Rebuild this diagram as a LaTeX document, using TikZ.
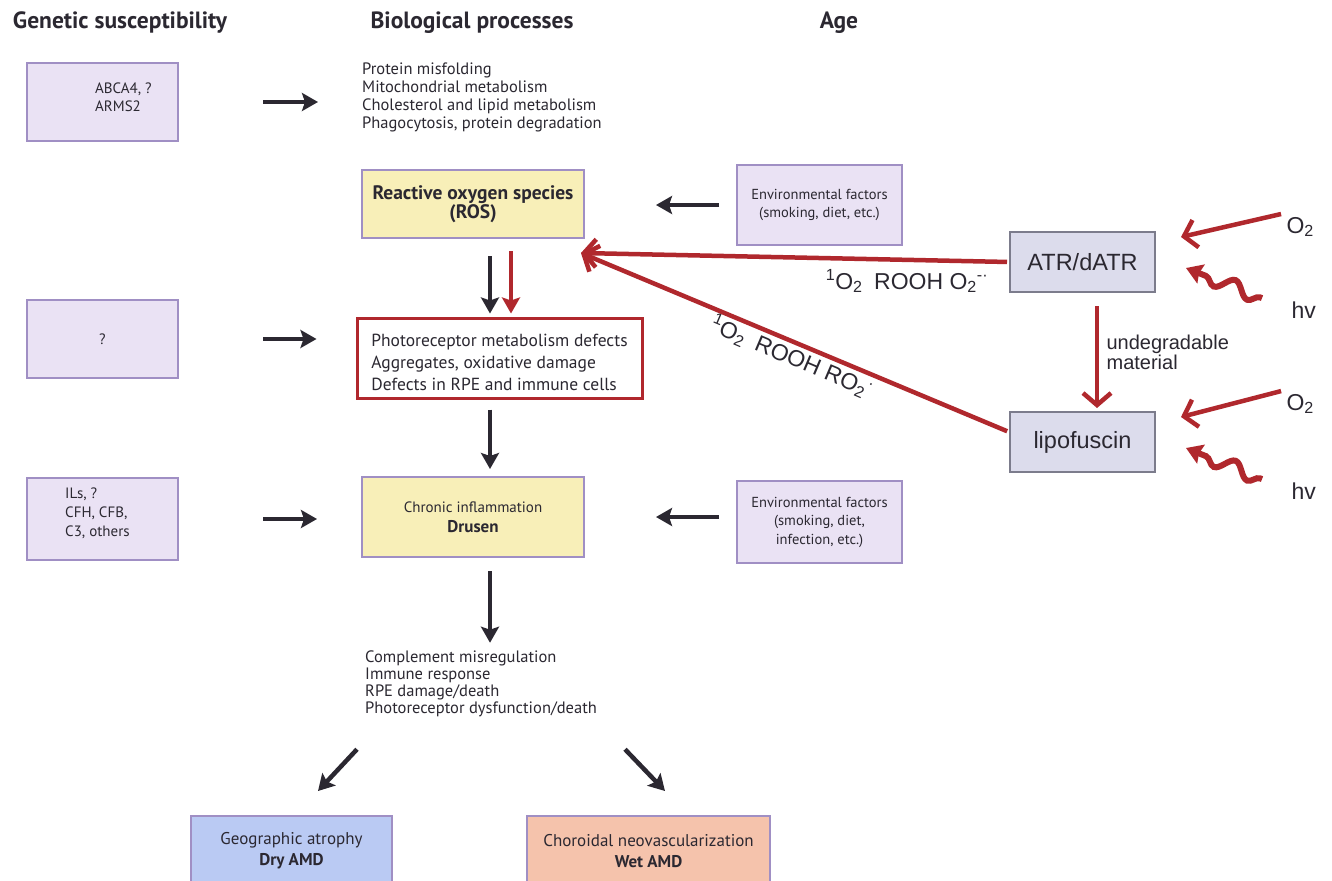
\documentclass[tikz,border=0pt]{standalone}
\usepackage{fontspec}
\setmainfont{PT Sans}
\newfontfamily\arial{Liberation Sans}
\usetikzlibrary{arrows.meta,decorations.pathmorphing,positioning}

\definecolor{ink}{HTML}{2B2831}
\definecolor{lilac}{HTML}{EAE2F4}
\definecolor{lilacline}{HTML}{A08FC4}
\definecolor{paleyellow}{HTML}{F8EFB8}
\definecolor{darkred}{HTML}{B0282D}
\definecolor{greybox}{HTML}{DCDCEC}
\definecolor{greyline}{HTML}{7C7C8C}
\definecolor{paleblue}{HTML}{BACAF3}
\definecolor{salmon}{HTML}{F5C3AC}

\begin{document}
\begin{tikzpicture}[x=1pt,y=-1pt,
  every node/.style={text=ink},
  head/.style={font=\fontsize{23.5}{26}\selectfont\bfseries},
  genebox/.style={draw=lilacline,fill=lilac,line width=2pt,minimum width=151pt,font=\fontsize{15}{18}\selectfont},
  envbox/.style={draw=lilacline,fill=lilac,line width=2pt,minimum width=165pt,align=center,font=\fontsize{14.5}{18.5}\selectfont},
  procbox/.style={draw=lilacline,fill=paleyellow,line width=2pt,minimum width=222pt,align=center},
  amdbox/.style={draw=lilacline,line width=2pt,minimum height=70pt,anchor=north,align=center,font=\fontsize{17}{21}\selectfont},
  atrbox/.style={draw=greyline,fill=greybox,line width=2pt,minimum width=145pt,minimum height=60pt,font=\arial\fontsize{23.5}{28}\selectfont},
  lst/.style={align=left,anchor=west,inner sep=0pt,font=\fontsize{16.5}{18}\selectfont},
  arl/.style={font=\arial\fontsize{23}{26}\selectfont,text=ink},
  blk/.style={-{Stealth[length=16pt,width=18pt,inset=3pt]},line width=4.5pt,draw=ink},
  redbarb/.style={-{Straight Barb[length=12pt,width=28pt,line width=4.5pt]},line width=4.5pt,draw=darkred},
  redtri/.style={-{Stealth[length=16pt,width=18pt,inset=3pt]},line width=4.5pt,draw=darkred},
  hvsnake/.style={-{Stealth[length=16pt,width=20pt,inset=2pt]},line width=6pt,draw=darkred,
    decorate,decoration={snake,amplitude=7pt,segment length=36pt,pre length=2pt,post length=18pt}}
]
\clip (0,0) rectangle (1332,880);
\fill[white] (0,0) rectangle (1332,880);

% column headers
\node[head] (gen) at (120,23) {Genetic susceptibility};
\node[head] (bio) at (472,23) {Biological processes};
\node[head] (age) at (839,23) {Age};

% genetic susceptibility
\node[genebox,minimum height=78pt] (abca) at (102.5,102) {};
\node[lst,font=\fontsize{15}{18}\selectfont] (abcatxt) at (95,97) {ABCA4, ?\\ARMS2};
\node[genebox,minimum height=78pt] (unk) at (102.5,339) {?};
\node[genebox,minimum height=82pt] (ils) at (102.5,519) {};
\node[lst,font=\fontsize{15}{19}\selectfont] (ilstxt) at (65,513) {ILs, ?\\CFH, CFB,\\C3, others};

% biological processes
\node[lst] (procs) at (362,97) {Protein misfolding\\Mitochondrial metabolism\\Cholesterol and lipid metabolism\\Phagocytosis, protein degradation};
\node[procbox,minimum height=68pt,font=\bfseries\fontsize{19.5}{19}\selectfont] (ros) at (473,204) {Reactive oxygen species\\(ROS)};
\node[draw=darkred,line width=3pt,fill=white,minimum width=285pt,minimum height=80pt,align=left,
  font=\fontsize{17.5}{22}\selectfont] (photo) at (499.5,358) {\rule{0pt}{22pt}Photoreceptor metabolism defects\\Aggregates, oxidative damage\\Defects in RPE and immune cells};
\node[procbox,minimum height=80pt,font=\fontsize{15}{20}\selectfont] (chron) at (473,517) {Chronic inflammation\\{\fontsize{17}{20}\selectfont\bfseries Drusen}};
\node[lst,font=\fontsize{16.5}{17}\selectfont] (effects) at (365,684) {Complement misregulation\\Immune response\\RPE damage/death\\Photoreceptor dysfunction/death};
\node[amdbox,fill=paleblue,minimum width=201pt] (dry) at (291.5,815) {Geographic atrophy\\\bfseries Dry AMD};
\node[amdbox,fill=salmon,minimum width=243pt] (wet) at (648.5,815) {Choroidal neovascularization\\\bfseries Wet AMD};

% age
\node[envbox,minimum height=80pt] (env1) at (819.5,205) {Environmental factors\\(smoking, diet, etc.)};
\node[envbox,minimum height=82pt] (env2) at (819.5,522) {Environmental factors\\(smoking, diet,\\infection, etc.)};

% retinoid side
\node[atrbox] (atr) at (1082.5,262) {ATR/dATR};
\node[atrbox] (lipo) at (1082.5,442) {lipofuscin};
\node[arl,anchor=west] (o2a) at (1283,227) {O\textsubscript{2}};
\node[arl,anchor=west] (hva) at (1288,310) {hv};
\node[arl,anchor=west] (o2b) at (1283,404) {O\textsubscript{2}};
\node[arl,anchor=west] (hvb) at (1288,491) {hv};
\coordinate (rostip) at ([shift={(-4,14)}]ros.south east);
\node[arl] (lbla) at (907,281) {\textsuperscript{1}O\textsubscript{2}\enspace ROOH O\textsubscript{2}\textsuperscript{-·}};
\node[arl,rotate=-23] (lblb) at (792,357) {\textsuperscript{1}O\textsubscript{2}\enspace ROOH RO\textsubscript{2}\textsuperscript{·}};

% black arrows
\draw[blk,shorten <=84pt,shorten >=44pt] (abca.east) -- (abca.east -| procs.west);
\draw[blk,shorten <=84pt,shorten >=39pt] (unk.east) -- (unk.east -| photo.west);
\draw[blk,shorten <=84pt,shorten >=44pt] (ils.east) -- (ils.east -| chron.west);
\draw[blk,shorten <=17pt,shorten >=71pt] (env1.west) -- (env1.west -| ros.east);
\draw[blk,shorten <=17pt,shorten >=71pt] ([yshift=5pt]env2.west) -- ([yshift=5pt]env2.west -| chron.east);
\draw[blk,shorten <=17pt,shorten >=3pt] ([xshift=17pt]ros.south) -- ([xshift=17pt]ros.south |- photo.north);
\draw[blk,shorten <=10pt,shorten >=7pt] ([xshift=17pt]ros.south |- photo.south) -- ([xshift=17pt]chron.north);
\draw[blk,shorten <=13pt,shorten >=8pt] ([xshift=17pt]chron.south) -- ([xshift=17pt]chron.south |- effects.north);
\draw[blk] ([shift={(-8,32)}]effects.south west) -- ([shift={(26.5,-24)}]dry.north);
\draw[blk] ([shift={(260,32)}]effects.south west) -- ([shift={(16.5,-24)}]wet.north);

% red arrows
\draw[redtri,shorten <=12pt,shorten >=3pt] ([xshift=38pt]ros.south) -- ([xshift=38pt]ros.south |- photo.north);
\draw[redbarb,shorten <=2pt] (atr.west) -- (rostip);
\draw[redbarb,shorten <=2pt] ([yshift=10pt]lipo.west) -- (rostip);
\draw[redbarb,shorten <=13pt,shorten >=3pt] ([xshift=14.5pt]atr.south) -- node[arl,right=4pt,align=left,font=\arial\fontsize{20}{20}\selectfont] (undeg) {undegradable\\material} ([xshift=14.5pt]lipo.north);
\draw[redbarb,shorten <=2pt] (o2a.north west) -- ([shift={(25,6)}]atr.north east);
\draw[redbarb,shorten <=2pt] (o2b.north west) -- ([shift={(25,6)}]lipo.north east);
\draw[hvsnake] ([xshift=-26pt]hva.north west) -- ([shift={(30,6)}]atr.east);
\draw[hvsnake] ([xshift=-26pt]hvb.north west) -- ([shift={(30,6)}]lipo.east);
\end{tikzpicture}
\end{document}
